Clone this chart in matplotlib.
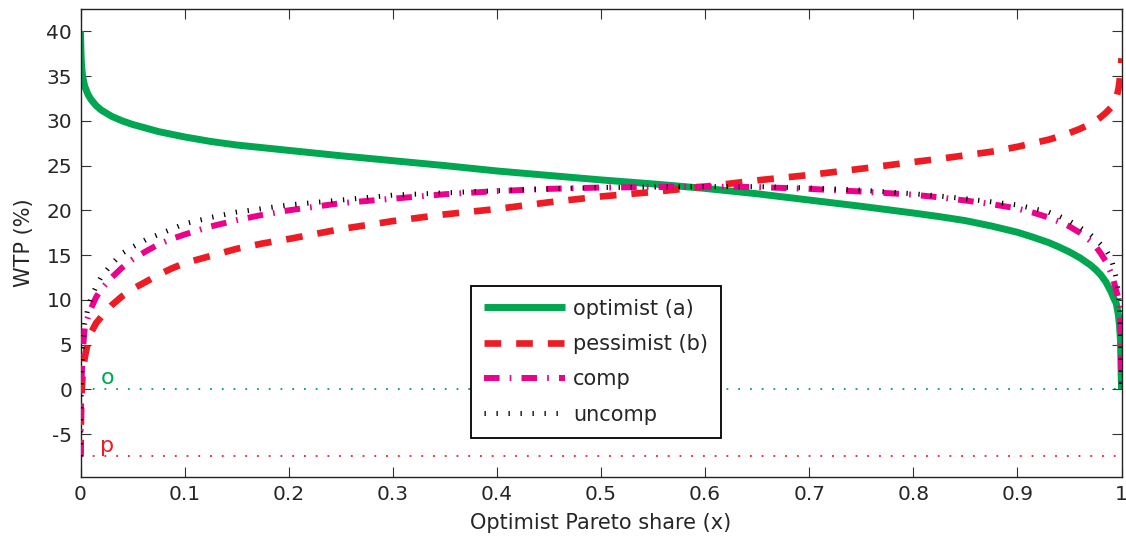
import matplotlib
matplotlib.use("Agg")
import matplotlib.pyplot as plt

# ---------------- data ----------------
x_share = [0, 0.0005, 0.001, 0.002, 0.004, 0.007, 0.01, 0.015, 0.02, 0.03,
           0.04, 0.05, 0.0625, 0.075, 0.0875, 0.1, 0.125, 0.15, 0.175, 0.2,
           0.25, 0.3, 0.35, 0.4, 0.45, 0.5, 0.55, 0.6, 0.65, 0.7,
           0.75, 0.8, 0.825, 0.85, 0.875, 0.9, 0.915, 0.93, 0.94, 0.95,
           0.96, 0.97, 0.975, 0.98, 0.985, 0.99, 0.9925, 0.995, 0.997, 0.998,
           0.999, 1.0]

optimist = [40, 37.5, 36.2, 35.0, 33.9, 33.0, 32.4, 31.7, 31.2, 30.5,
            30.0, 29.6, 29.2, 28.8, 28.5, 28.2, 27.7, 27.3, 27.0, 26.7,
            26.1, 25.55, 25.0, 24.4, 23.9, 23.4, 22.95, 22.45, 21.85, 21.15,
            20.45, 19.7, 19.3, 18.85, 18.25, 17.55, 17.0, 16.4, 15.9, 15.35,
            14.7, 13.9, 13.4, 12.8, 12.0, 10.9, 10.2, 9.6, 8.3, 7.2,
            5.5, 0]

pessimist = [-7.5, -3, -0.5, 1.5, 3.5, 5.2, 6.3, 7.4, 8.1, 9.4,
             10.4, 11.2, 12.0, 12.8, 13.5, 14.1, 14.9, 15.7, 16.3, 16.8,
             17.9, 18.8, 19.55, 20.15, 20.9, 21.55, 22.05, 22.65, 23.35, 23.95,
             24.65, 25.4, 25.75, 26.15, 26.55, 27.1, 27.5, 27.9, 28.25, 28.65,
             29.1, 29.65, 30.0, 30.4, 30.9, 31.5, 31.9, 32.6, 33.5, 34.3,
             35.5, 37]

comp = [-7.5, -2, 1, 4, 6.8, 8.0, 9.0, 10.3, 11.2, 12.5,
        13.6, 14.5, 15.4, 16.2, 16.8, 17.3, 18.2, 18.9, 19.5, 20.0,
        20.8, 21.3, 21.8, 22.15, 22.4, 22.55, 22.6, 22.65, 22.6, 22.4,
        22.1, 21.75, 21.45, 21.1, 20.7, 20.2, 19.75, 19.2, 18.75, 18.2,
        17.5, 16.6, 16.0, 15.2, 14.3, 13.0, 12.1, 11.0, 10.2, 9.3,
        7.5, 0]

uncomp = [-7.5, -2, 1.5, 4.5, 7.3, 9.0, 10.2, 11.5, 12.6, 14.0,
          15.2, 15.9, 16.7, 17.3, 17.9, 18.5, 19.2, 19.8, 20.2, 20.6,
          21.15, 21.7, 21.95, 22.2, 22.4, 22.55, 22.6, 22.65, 22.65, 22.5,
          22.25, 21.85, 21.6, 21.3, 20.95, 20.6, 20.2, 19.8, 19.35, 18.8,
          18.1, 17.3, 16.8, 16.2, 15.6, 14.6, 13.6, 12.4, 10.8, 9.5,
          7.0, 0]

o_level = 0.0
p_level = -7.5

series_labels = ["optimist (a)", "pessimist (b)", "comp", "uncomp"]
x_ticks = [0, 0.1, 0.2, 0.3, 0.4, 0.5, 0.6, 0.7, 0.8, 0.9, 1]
x_ticklabels = ["0", "0.1", "0.2", "0.3", "0.4", "0.5", "0.6", "0.7", "0.8", "0.9", "1"]
y_ticks = [-5, 0, 5, 10, 15, 20, 25, 30, 35, 40]

# ---------------- style ----------------
plt.rcParams["font.family"] = ["DejaVu Sans"]
plt.rcParams["axes.unicode_minus"] = False

GREEN = "#00A650"
RED = "#ED1C24"
MAGENTA = "#EC008C"
TXT = "#262626"

fig = plt.figure(figsize=(11.26, 5.44), dpi=100)
ax = fig.add_axes([80.5 / 1126, 67 / 544, 1041 / 1126, 468 / 544])

# reference dotted lines
ax.plot([0, 1], [o_level, o_level], color=GREEN, lw=1.3,
        linestyle=(0, (1, 5.5)), zorder=1)
ax.plot([0, 1], [p_level, p_level], color=RED, lw=1.3,
        linestyle=(0, (1, 5.5)), zorder=1)
ax.text(0.019, o_level + 0.2, "o", color=GREEN, fontsize=16, va="bottom", ha="left")
ax.text(0.019, p_level + 0.45, "p", color=RED, fontsize=16, va="baseline", ha="left")

ax.plot(x_share, optimist, color=GREEN, lw=5.0, solid_capstyle="butt",
        solid_joinstyle="round", label=series_labels[0], zorder=2)
ax.plot(x_share, pessimist, color=RED, lw=4.8, linestyle=(0, (2.5, 2.25)),
        dash_capstyle="butt", label=series_labels[1], zorder=3)
ax.plot(x_share, comp, color=MAGENTA, lw=4.3,
        linestyle=(0, (2.6, 1.7, 0.28, 1.7)), dash_capstyle="butt",
        label=series_labels[2], zorder=4)
ax.plot(x_share, uncomp, color="black", lw=3.6,
        linestyle=(0, (0.26, 2.14)), dash_capstyle="butt",
        label=series_labels[3], zorder=5)

ax.set_xlim(0, 1)
ax.set_ylim(-9.8, 42.5)
ax.set_xticks(x_ticks)
ax.set_xticklabels(x_ticklabels)
ax.set_yticks(y_ticks)
ax.tick_params(axis="both", which="both", direction="in", length=7, width=0.8,
               top=True, right=True, labelsize=14.5, labelcolor=TXT, color="#333333")
ax.tick_params(axis="x", pad=6)
ax.tick_params(axis="y", pad=6)
for sp in ax.spines.values():
    sp.set_linewidth(1.0)
    sp.set_color("#222222")

ax.set_xlabel("Optimist Pareto share (x)", fontsize=15, color=TXT, labelpad=6)
ax.set_ylabel("WTP (%)", fontsize=15, color=TXT, labelpad=9)

leg = ax.legend(loc="upper left", bbox_to_anchor=(0.375, 0.409), borderaxespad=0,
                fontsize=15, frameon=True, fancybox=False, framealpha=1,
                edgecolor="black", handlelength=3.9, handletextpad=0.4,
                borderpad=0.62, labelspacing=0.74)
leg.get_frame().set_linewidth(1.3)
for t in leg.get_texts():
    t.set_color(TXT)

fig.savefig("out.png", dpi=100)
